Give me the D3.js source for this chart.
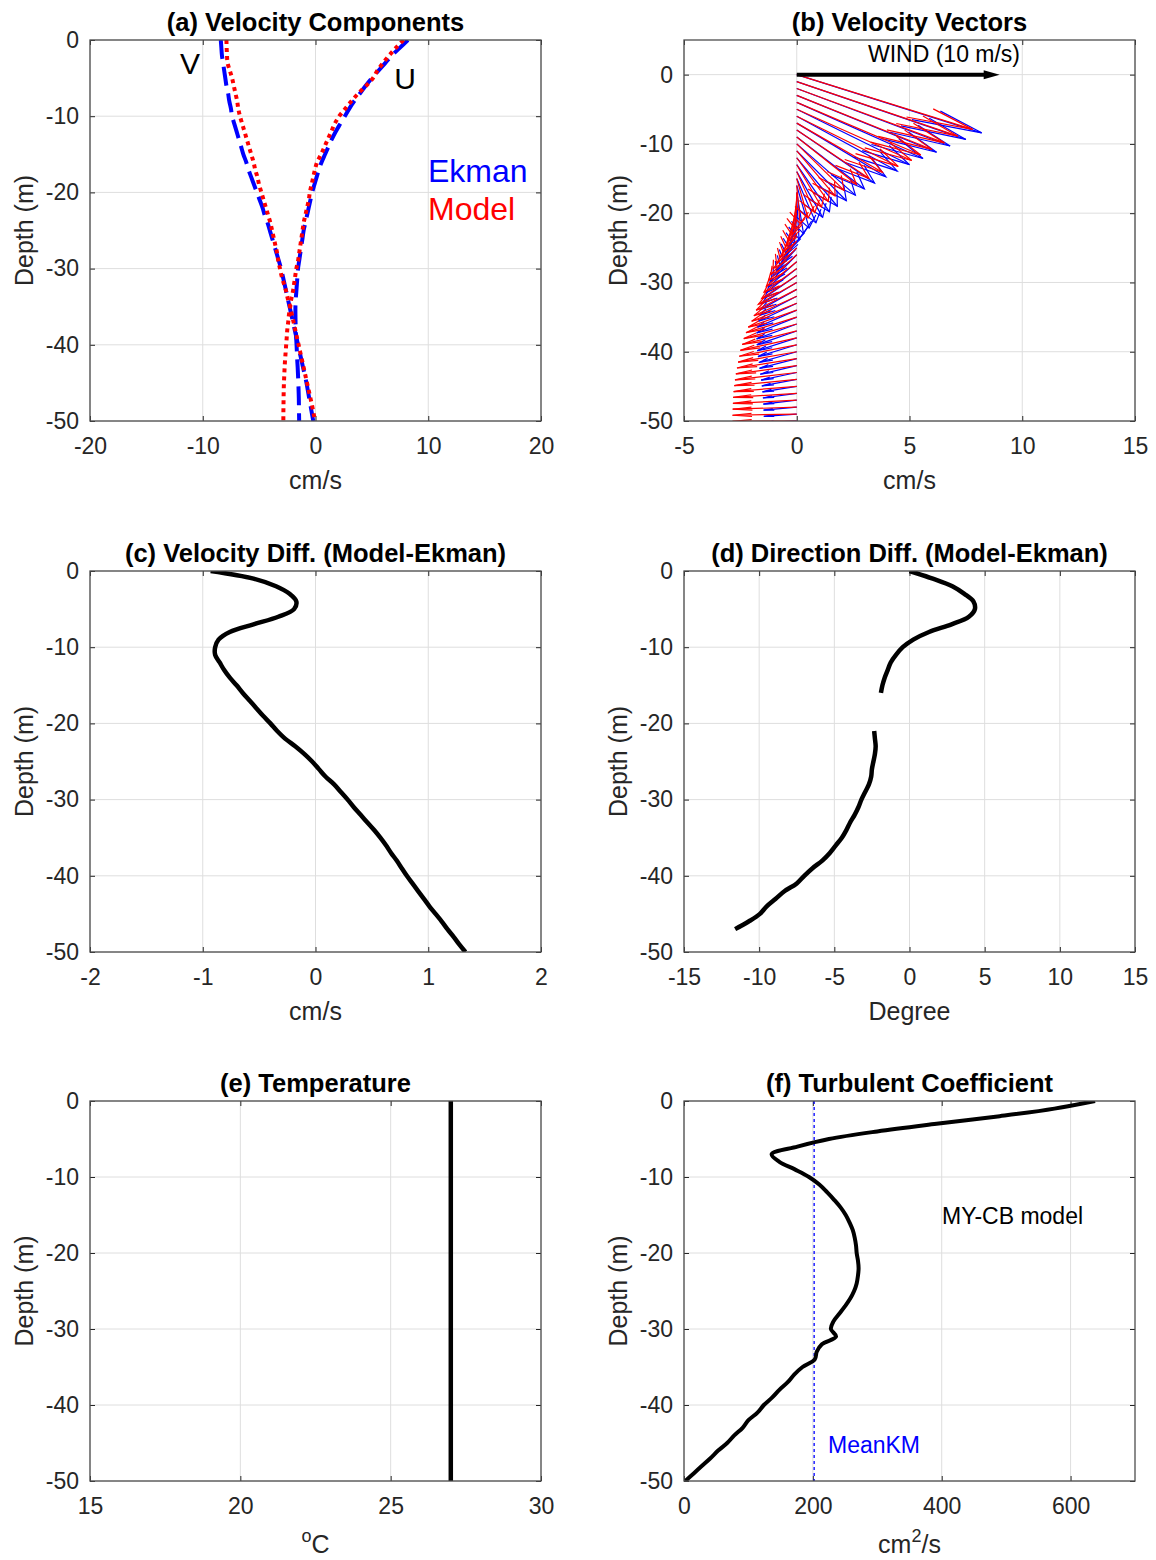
<!DOCTYPE html>
<html>
<head>
<meta charset="utf-8">
<script src="https://cdn.jsdelivr.net/npm/d3@7"></script>
<style>
  body { margin: 0; background: #fff; }
  text { font-family: 'Liberation Sans', Arial, Helvetica, sans-serif; }
</style>
</head>
<body>
<svg id="fig" width="1156" height="1560"></svg>
<script>
// ---- depth grid (m) ----
const depth = [0,-1,-2,-3,-4,-5,-6,-7,-8,-9,-10,-11,-12,-13,-14,-15,-16,-17,-18,-19,-20,
  -21,-22,-23,-24,-25,-26,-27,-28,-29,-30,-31,-32,-33,-34,-35,-36,-37,-38,-39,-40,
  -41,-42,-43,-44,-45,-46,-47,-48,-49,-50];

// ---- Ekman solution (cm/s) ----
const ekmanU = [8.2,7.5,6.8,6.2,5.6,5.0,4.45,3.95,3.45,3.0,2.6,2.2,1.8,1.45,1.15,0.85,0.55,0.3,0.1,-0.1,-0.3,
  -0.45,-0.6,-0.75,-0.9,-1.05,-1.15,-1.25,-1.35,-1.45,-1.55,-1.6,-1.65,-1.7,-1.75,-1.78,-1.78,-1.77,-1.75,-1.72,-1.68,
  -1.65,-1.62,-1.58,-1.55,-1.52,-1.5,-1.48,-1.47,-1.46,-1.45];
const ekmanV = [-8.4,-8.35,-8.3,-8.2,-8.1,-8.0,-7.9,-7.75,-7.65,-7.5,-7.4,-7.2,-7.0,-6.8,-6.6,-6.4,-6.15,-5.95,-5.7,-5.45,-5.2,
  -4.95,-4.7,-4.5,-4.25,-4.05,-3.85,-3.65,-3.45,-3.25,-3.05,-2.9,-2.75,-2.6,-2.45,-2.3,-2.15,-2.0,-1.85,-1.7,-1.55,
  -1.4,-1.25,-1.1,-0.95,-0.8,-0.68,-0.56,-0.44,-0.32,-0.2];

// ---- MY-CB model (cm/s) ----
const modelU = [7.8,7.15,6.55,6.0,5.5,5.1,4.5,3.8,3.2,2.65,2.1,1.7,1.4,1.1,0.8,0.5,0.15,-0.05,-0.2,-0.35,-0.5,
  -0.6,-0.75,-0.9,-1.05,-1.15,-1.25,-1.35,-1.45,-1.55,-1.7,-1.8,-1.9,-2.0,-2.15,-2.25,-2.35,-2.42,-2.5,-2.55,-2.6,
  -2.65,-2.7,-2.74,-2.77,-2.8,-2.82,-2.83,-2.84,-2.85,-2.85];
const modelV = [-7.9,-7.88,-7.85,-7.8,-7.6,-7.4,-7.25,-7.1,-6.95,-6.85,-6.7,-6.5,-6.3,-6.1,-5.9,-5.7,-5.5,-5.35,-5.15,-5.0,-4.8,
  -4.6,-4.4,-4.2,-4.0,-3.85,-3.7,-3.55,-3.4,-3.3,-3.15,-3.0,-2.8,-2.6,-2.45,-2.25,-2.1,-1.95,-1.8,-1.65,-1.5,
  -1.35,-1.2,-1.05,-0.9,-0.75,-0.6,-0.45,-0.3,-0.17,-0.04];

// ---- differences Model - Ekman ----
const speedDiff = [-0.93,-0.55,-0.35,-0.23,-0.17,-0.19,-0.33,-0.55,-0.76,-0.86,-0.89,-0.89,-0.85,-0.81,-0.76,-0.70,-0.645,-0.585,-0.525,-0.465,-0.40,
  -0.34,-0.27,-0.18,-0.10,-0.03,0.03,0.09,0.165,0.225,0.285,0.34,0.40,0.46,0.52,0.575,0.625,0.67,0.72,0.765,0.81,
  0.86,0.91,0.96,1.01,1.065,1.12,1.17,1.225,1.275,1.33];
const dirDiff = [0,1.55,2.85,3.65,4.25,4.35,3.95,2.8,1.3,0.25,-0.45,-0.9,-1.25,-1.45,-1.65,-1.8,-1.9,null,null,null,null,
  -2.35,-2.3,-2.25,-2.3,-2.4,-2.5,-2.55,-2.7,-2.95,-3.2,-3.4,-3.65,-3.95,-4.2,-4.5,-4.9,-5.3,-5.8,-6.45,-7.0,
  -7.5,-8.3,-8.9,-9.5,-9.95,-10.7,-11.6,null,null,null];

// ---- temperature (deg C) ----
const tempDepth = [0, -50];
const temperature = [27, 27];

// ---- turbulent coefficient (cm^2/s) ----
const kmModel = [638,575,490,392,300,225,176,136,148,172,194,210,222,233,243,251,257,262,265,267,268,
  270,271,270,268,264,258,250,241,232,228,236,214,206,203,184,171,161,148,137,124,
  114,100,91,78,67,53,41,28,15,2];
const meanKM = 202;

// ---- wind ----
const windU = 9;

// ---- tick values ----
const depthTicks = [0,-10,-20,-30,-40,-50];
const ticksA = [-20,-10,0,10,20];
const ticksB = [-5,0,5,10,15];
const ticksC = [-2,-1,0,1,2];
const ticksD = [-15,-10,-5,0,5,10,15];
const ticksE = [15,20,25,30];
const ticksF = [0,200,400,600];

const svg = d3.select('#fig');
const W = 451;
const AX = '#262626';
let clipId = 0;

function panel(o) {
  const h = o.h || 381;
  const g = svg.append('g').attr('transform', `translate(${o.left},${o.top})`);
  const x = d3.scaleLinear().domain(o.xDom).range([0, W]);
  const y = d3.scaleLinear().domain(o.yDom).range([h, 0]);

  // grid
  const grid = g.append('g').attr('stroke', '#dedede').attr('stroke-width', 1);
  grid.selectAll('.gx').data(o.xTicks).join('line')
    .attr('x1', d => x(d)).attr('x2', d => x(d)).attr('y1', 0).attr('y2', h);
  grid.selectAll('.gy').data(depthTicks).join('line')
    .attr('y1', d => y(d)).attr('y2', d => y(d)).attr('x1', 0).attr('x2', W);

  // axes with inward ticks on all four sides
  const fmt = d => d3.format('d')(d).replace('\u2212', '-');
  const styleAxis = sel => {
    sel.select('.domain').remove();
    sel.selectAll('line').attr('stroke', AX);
    sel.selectAll('text').attr('fill', AX).style('font-size', '23px')
      .style('font-family', "'Liberation Sans', Arial, sans-serif");
  };
  g.append('g').attr('transform', `translate(0,${h})`)
    .call(d3.axisBottom(x).tickValues(o.xTicks).tickSize(-5).tickPadding(17).tickFormat(fmt))
    .call(styleAxis);
  g.append('g')
    .call(d3.axisTop(x).tickValues(o.xTicks).tickSize(-5).tickFormat(''))
    .call(styleAxis);
  g.append('g')
    .call(d3.axisLeft(y).tickValues(depthTicks).tickSize(-5).tickPadding(11).tickFormat(fmt))
    .call(styleAxis);
  g.append('g').attr('transform', `translate(${W},0)`)
    .call(d3.axisRight(y).tickValues(depthTicks).tickSize(-5).tickFormat(''))
    .call(styleAxis);

  // clipping region for data
  const id = 'clip' + (clipId++);
  g.append('clipPath').attr('id', id).append('rect').attr('width', W).attr('height', h);
  const plot = g.append('g').attr('clip-path', `url(#${id})`);

  // frame
  g.append('rect').attr('width', W).attr('height', h)
    .attr('fill', 'none').attr('stroke', '#4d4d4d').attr('stroke-width', 1.3);

  // title
  g.append('text').attr('x', W / 2).attr('y', -9).attr('text-anchor', 'middle')
    .style('font-size', '25.5px').style('font-weight', 'bold').attr('fill', '#000').text(o.title);

  // y label
  g.append('text').attr('transform', `translate(-57,${h / 2}) rotate(-90)`)
    .attr('text-anchor', 'middle').style('font-size', '25px').attr('fill', AX).text('Depth (m)');

  // x label
  const xl = g.append('text').attr('x', W / 2).attr('y', h + 68)
    .attr('text-anchor', 'middle').style('font-size', '25px').attr('fill', AX);
  o.xlabel(xl);

  return { g, plot, x, y, h };
}

const profileLine = (x, y, vals) => d3.line()
  .defined((d, i) => vals[i] !== null)
  .curve(d3.curveCatmullRom.alpha(0.5))
  .x((d, i) => x(vals[i]))
  .y(d => y(d));

// ---------------- (a) Velocity Components ----------------
{
  const p = panel({ left: 90, top: 40, xDom: [-20, 20], yDom: [-50, 0], xTicks: ticksA,
    title: '(a) Velocity Components', xlabel: t => t.text('cm/s') });
  const blue = [ekmanV, ekmanU], red = [modelV, modelU];
  blue.forEach(vals => p.plot.append('path').datum(depth)
    .attr('d', profileLine(p.x, p.y, vals)).attr('fill', 'none')
    .attr('stroke', '#0000ff').attr('stroke-width', 4).attr('stroke-dasharray', '19,8'));
  red.forEach(vals => p.plot.append('path').datum(depth)
    .attr('d', profileLine(p.x, p.y, vals)).attr('fill', 'none')
    .attr('stroke', '#ff0000').attr('stroke-width', 4).attr('stroke-dasharray', '4,4'));
  p.g.append('text').attr('x', 100).attr('y', 34).attr('text-anchor', 'middle')
    .style('font-size', '30px').attr('fill', '#000').text('V');
  p.g.append('text').attr('x', 315).attr('y', 49).attr('text-anchor', 'middle')
    .style('font-size', '30px').attr('fill', '#000').text('U');
  p.g.append('text').attr('x', 338).attr('y', 142)
    .style('font-size', '32px').attr('fill', '#0000ff').text('Ekman');
  p.g.append('text').attr('x', 338).attr('y', 180)
    .style('font-size', '32px').attr('fill', '#ff0000').text('Model');
}

// ---------------- (b) Velocity Vectors ----------------
{
  const p = panel({ left: 684, top: 40, xDom: [-5, 15], yDom: [-50, 5], xTicks: ticksB,
    title: '(b) Velocity Vectors', xlabel: t => t.text('cm/s') });
  const alpha = 0.3, beta = 0.25;
  const quiver = (U, V, color) => {
    const gq = p.plot.append('g').attr('stroke', color).attr('stroke-width', 1.2).attr('fill', 'none');
    depth.forEach((z, i) => {
      const u = U[i], v = V[i];
      const tx = u, ty = z + v;
      gq.append('line').attr('x1', p.x(0)).attr('y1', p.y(z)).attr('x2', p.x(tx)).attr('y2', p.y(ty));
      const hx1 = tx - alpha * (u + beta * v), hy1 = ty - alpha * (v - beta * u);
      const hx2 = tx - alpha * (u - beta * v), hy2 = ty - alpha * (v + beta * u);
      gq.append('polyline').attr('points',
        `${p.x(hx1)},${p.y(hy1)} ${p.x(tx)},${p.y(ty)} ${p.x(hx2)},${p.y(hy2)}`);
    });
  };
  quiver(ekmanU, ekmanV, '#0000ff');
  quiver(modelU, modelV, '#ff0000');
  // wind arrow
  const y0 = p.y(0);
  p.g.append('line').attr('x1', p.x(0)).attr('y1', y0).attr('x2', p.x(windU) - 10).attr('y2', y0)
    .attr('stroke', '#000').attr('stroke-width', 4);
  p.g.append('path')
    .attr('d', `M${p.x(windU) - 16},${y0 - 4.5} L${p.x(windU)},${y0} L${p.x(windU) - 16},${y0 + 4.5} Z`)
    .attr('fill', '#000');
  p.g.append('text').attr('x', 260).attr('y', 22).attr('text-anchor', 'middle')
    .style('font-size', '23px').attr('fill', '#000').text('WIND (10 m/s)');
}

// ---------------- (c) Velocity Diff ----------------
{
  const p = panel({ left: 90, top: 571, xDom: [-2, 2], yDom: [-50, 0], xTicks: ticksC,
    title: '(c) Velocity Diff. (Model-Ekman)', xlabel: t => t.text('cm/s') });
  p.plot.append('path').datum(depth).attr('d', profileLine(p.x, p.y, speedDiff))
    .attr('fill', 'none').attr('stroke', '#000').attr('stroke-width', 4.5).attr('stroke-linejoin', 'round');
}

// ---------------- (d) Direction Diff ----------------
{
  const p = panel({ left: 684, top: 571, xDom: [-15, 15], yDom: [-50, 0], xTicks: ticksD,
    title: '(d) Direction Diff. (Model-Ekman)', xlabel: t => t.text('Degree') });
  p.plot.append('path').datum(depth).attr('d', profileLine(p.x, p.y, dirDiff))
    .attr('fill', 'none').attr('stroke', '#000').attr('stroke-width', 4.5).attr('stroke-linejoin', 'round');
}

// ---------------- (e) Temperature ----------------
{
  const p = panel({ left: 90, top: 1101, h: 380, xDom: [15, 30], yDom: [-50, 0], xTicks: ticksE,
    title: '(e) Temperature',
    xlabel: t => {
      t.attr('y', 380 + 72);
      t.append('tspan').style('font-size', '18px').attr('dy', -11).text('o');
      t.append('tspan').attr('dy', 11).text('C');
    } });
  p.plot.append('path').datum(tempDepth).attr('d', profileLine(p.x, p.y, temperature))
    .attr('fill', 'none').attr('stroke', '#000').attr('stroke-width', 4.5);
}

// ---------------- (f) Turbulent Coefficient ----------------
{
  const p = panel({ left: 684, top: 1101, h: 380, xDom: [0, 700], yDom: [-50, 0], xTicks: ticksF,
    title: '(f) Turbulent Coefficient',
    xlabel: t => {
      t.attr('y', 380 + 72);
      t.append('tspan').text('cm');
      t.append('tspan').style('font-size', '18px').attr('dy', -11).text('2');
      t.append('tspan').attr('dy', 11).text('/s');
    } });
  p.plot.append('line').attr('x1', p.x(meanKM)).attr('x2', p.x(meanKM)).attr('y1', 0).attr('y2', p.h)
    .attr('stroke', '#0000ff').attr('stroke-width', 1.3).attr('stroke-dasharray', '3,3');
  p.plot.append('path').datum(depth).attr('d', profileLine(p.x, p.y, kmModel))
    .attr('fill', 'none').attr('stroke', '#000').attr('stroke-width', 4).attr('stroke-linejoin', 'round');
  p.g.append('text').attr('x', 258).attr('y', 123)
    .style('font-size', '23px').attr('fill', '#000').text('MY-CB model');
  p.g.append('text').attr('x', 144).attr('y', 352)
    .style('font-size', '23px').attr('fill', '#0000ff').text('MeanKM');
}
</script>
</body>
</html>
